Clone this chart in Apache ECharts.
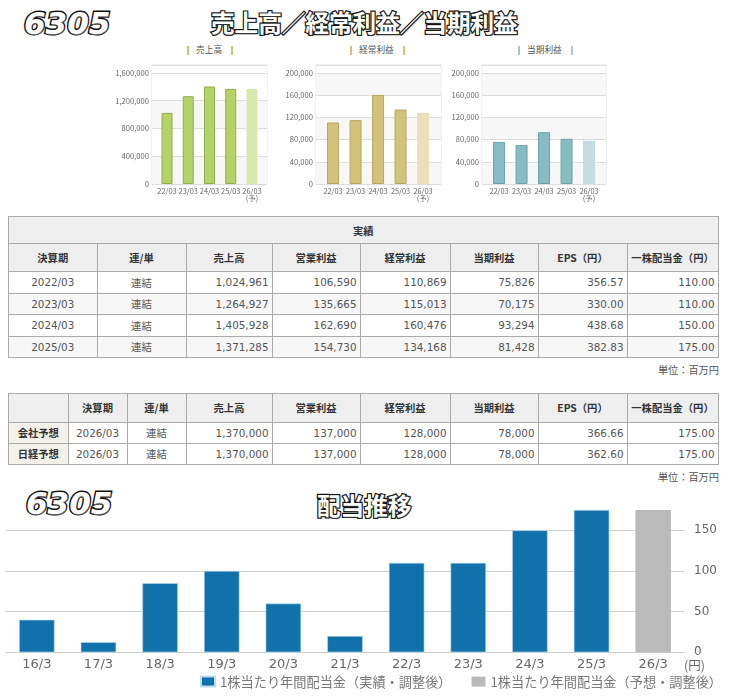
<!DOCTYPE html>
<html>
<head>
<meta charset="utf-8">
<title>6305</title>
<script src="https://cdn.jsdelivr.net/npm/echarts@6/dist/echarts.min.js"></script>
<style>
html,body{margin:0;padding:0;background:#fff;}
body{position:relative;width:730px;height:700px;overflow:hidden;font-family:'DejaVu Sans','Noto Sans CJK JP',sans-serif;}
.abs{position:absolute;}
.code,.head{position:absolute;color:#fff;paint-order:stroke fill;white-space:nowrap;}
.code{font:italic bold 31px 'DejaVu Sans';line-height:32px;-webkit-text-stroke:3px #111;text-shadow:0.5px 0.5px 0 #666;}
.head{font:bold 23.6px 'Noto Sans CJK JP';line-height:28px;-webkit-text-stroke:2.4px #111;text-shadow:1px 1px 0 #333;}
.mini-title{position:absolute;top:43px;font:8.7px 'Noto Sans CJK JP';line-height:14px;color:#555;white-space:nowrap;}
.mini-title i{position:absolute;top:3px;width:2px;height:9px;}
table{position:absolute;left:8px;border-collapse:collapse;table-layout:fixed;font-size:10.4px;color:#555;}
th,td{border:1px solid #aaa;padding:0;box-sizing:border-box;text-align:center;font-weight:normal;}
th{background:#eee;color:#333;font:bold 10.3px 'Noto Sans CJK JP','DejaVu Sans';}
td.n{text-align:right;padding-right:3px;}
tr.even td{background:#f7f7f7;}
td.rowhead{background:#f4f1ea;color:#333;font:bold 10.3px 'Noto Sans CJK JP';}
.unit{position:absolute;right:11px;font:10.2px 'Noto Sans CJK JP';color:#555;}
</style>
</head>
<body>
<div class="code" style="left:24px;top:7px;">6305</div>
<div class="head" style="left:211px;top:8px;">売上高／経常利益／当期利益</div>
<div class="mini-title" style="left:196px;"><i style="left:-9px;background:#b3d267;"></i>売上高<i style="left:35px;background:#b3d267;"></i></div>
<div class="mini-title" style="left:359px;"><i style="left:-9px;background:#d3c27a;"></i>経常利益<i style="left:44px;background:#d3c27a;"></i></div>
<div class="mini-title" style="left:527px;"><i style="left:-9px;background:#a5c9cf;"></i>当期利益<i style="left:44px;background:#a5c9cf;"></i></div>
<div id="miniSales" class="abs"></div>
<div id="miniOrdinary" class="abs"></div>
<div id="miniNet" class="abs"></div>
<table id="resultTable" style="top:216px;"></table>
<div class="unit" style="top:362px;">単位：百万円</div>
<table id="forecastTable" style="top:393px;"></table>
<div class="unit" style="top:469px;">単位：百万円</div>
<div class="code" style="left:26px;top:487px;">6305</div>
<div class="head" style="left:317px;top:491px;">配当推移</div>
<div id="dividendChart" class="abs" style="left:0;top:490px;width:730px;height:210px;"></div>

<script>
// 上段の小さいグラフ
var miniPeriods = ['22/03', '23/03', '24/03', '25/03', '26/03\n(予)'];
var salesValues = [1024961, 1264927, 1405928, 1371285, 1370000];
var ordinaryValues = [110869, 115013, 160476, 134168, 128000];
var netValues = [75826, 70175, 93294, 81428, 78000];

// 実績テーブル
var resultHeaders = ['決算期', '連/単', '売上高', '営業利益', '経常利益', '当期利益', 'EPS（円）', '一株配当金（円）'];
var resultWidths = [88.5, 89, 86, 88, 90, 88, 89, 91];
var resultRows = [
    ['2022/03', '連結', '1,024,961', '106,590', '110,869', '75,826', '356.57', '110.00'],
    ['2023/03', '連結', '1,264,927', '135,665', '115,013', '70,175', '330.00', '110.00'],
    ['2024/03', '連結', '1,405,928', '162,690', '160,476', '93,294', '438.68', '150.00'],
    ['2025/03', '連結', '1,371,285', '154,730', '134,168', '81,428', '382.83', '175.00']
];

// 予想テーブル
var forecastWidths = [59.5, 59, 59, 86, 88, 90, 88, 89, 91];
var forecastRows = [
    ['会社予想', '2026/03', '連結', '1,370,000', '137,000', '128,000', '78,000', '366.66', '175.00'],
    ['日経予想', '2026/03', '連結', '1,370,000', '137,000', '128,000', '78,000', '362.60', '175.00']
];

// 配当推移
var dividendPeriods = ['16/3', '17/3', '18/3', '19/3', '20/3', '21/3', '22/3', '23/3', '24/3', '25/3', '26/3'];
var dividendActual = [40, 12.5, 85, 100, 60, 20, 110, 110, 150, 175, null];
var dividendForecast = [null, null, null, null, null, null, null, null, null, null, 175];

renderTables();
renderMini('miniSales', 152, 267, 156.4, 262.6, 11, salesValues, 1715000, 400000, ['#f7f7f7', '#fff', '#f7f7f7', '#fff', '#fff'], '#b3d267', '#8fb04f', '#d9e8ae');
renderMini('miniOrdinary', 316, 441, 321.8, 434.3, 12, ordinaryValues, 214400, 40000, ['#f7f7f7', '#fff'], '#d3c27a', '#b8a65f', '#e9e0ba');
renderMini('miniNet', 482, 606, 487.8, 600.3, 12, netValues, 214400, 40000, ['#f7f7f7', '#fff'], '#88bcc3', '#6da2aa', '#c4dbe0');
renderDividend();

function colgroup(widths) {
    return '<colgroup>' + widths.map(function (w) { return '<col style="width:' + w + 'px">'; }).join('') + '</colgroup>';
}

function renderTables() {
    var total = resultWidths.reduce(function (a, b) { return a + b; }, 0);
    var html = colgroup(resultWidths);
    html += '<tr style="height:27px"><th colspan="8">実績</th></tr>';
    html += '<tr style="height:28px">' + resultHeaders.map(function (h) { return '<th>' + h + '</th>'; }).join('') + '</tr>';
    resultRows.forEach(function (row, i) {
        html += '<tr style="height:21.5px" class="' + (i % 2 ? 'even' : '') + '">';
        row.forEach(function (v, c) { html += '<td class="' + (c > 1 ? 'n' : '') + '">' + v + '</td>'; });
        html += '</tr>';
    });
    var t1 = document.getElementById('resultTable');
    t1.style.width = total + 'px';
    t1.innerHTML = html;

    html = colgroup(forecastWidths);
    html += '<tr style="height:28.5px"><th></th>' + resultHeaders.map(function (h) { return '<th>' + h + '</th>'; }).join('') + '</tr>';
    forecastRows.forEach(function (row) {
        html += '<tr style="height:21px">';
        row.forEach(function (v, c) {
            html += '<td class="' + (c === 0 ? 'rowhead' : (c > 2 ? 'n' : '')) + '">' + v + '</td>';
        });
        html += '</tr>';
    });
    var t2 = document.getElementById('forecastTable');
    t2.style.width = total + 'px';
    t2.innerHTML = html;
}

/**
 * 小さい棒グラフ。奥のグリッドが枠と目盛線、手前のグリッドが棒
 */
function renderMini(id, boxL, boxR, barL, barR, barW, values, axisMax, step, bands, fill, edge, lightFill) {
    var dom = document.getElementById(id);
    var originX = boxL - 40;
    dom.style.left = originX + 'px';
    dom.style.top = '55px';
    dom.style.width = (boxR - boxL + 55) + 'px';
    dom.style.height = '150px';
    var chart = echarts.init(dom);
    var last = values.length - 1;
    chart.setOption({
        animation: false,
        grid: [
            { left: 40, top: 10, width: boxR - boxL, height: 119, show: true, borderColor: '#e2e2e2', borderWidth: 1, backgroundColor: '#fff' },
            { left: barL - originX, top: 10, width: barR - barL, height: 119 }
        ],
        xAxis: [
            { gridIndex: 0, type: 'category', data: miniPeriods, show: false },
            {
                gridIndex: 1, type: 'category', data: miniPeriods,
                axisLine: { show: false }, axisTick: { show: false },
                axisLabel: { interval: 0, margin: 3, fontSize: 7.4, lineHeight: 7.5, color: '#666', fontFamily: 'Noto Sans CJK JP', hideOverlap: false }
            }
        ],
        yAxis: [
            {
                gridIndex: 0, type: 'value', min: 0, max: axisMax, interval: step,
                axisLine: { show: false }, axisTick: { show: false },
                axisLabel: { showMaxLabel: false, margin: 3, fontSize: 7.6, color: '#666', fontFamily: 'Noto Sans CJK JP' },
                splitLine: { show: true, lineStyle: { color: '#ddd', width: 1 } },
                splitArea: { show: true, areaStyle: { color: bands } }
            },
            { gridIndex: 1, type: 'value', min: 0, max: axisMax, show: false, splitLine: { show: false } }
        ],
        series: [{
            type: 'bar',
            xAxisIndex: 1,
            yAxisIndex: 1,
            barWidth: barW,
            data: values.map(function (v, i) {
                return {
                    value: v,
                    itemStyle: i === last
                        ? { color: lightFill }
                        : { color: fill, borderColor: edge, borderWidth: 1 }
                };
            })
        }]
    });
}

/**
 * 配当推移
 */
function renderDividend() {
    var chart = echarts.init(document.getElementById('dividendChart'));
    var labelName = ['1株当たり年間配当金（実績・調整後）', '1株当たり年間配当金（予想・調整後）'];
    chart.setOption({
        animation: false,
        textStyle: { fontFamily: 'DejaVu Sans' },
        legend: {
            left: 195,
            top: 180,
            icon: 'rect',
            itemWidth: 14,
            itemHeight: 10,
            itemGap: 20,
            textStyle: { color: '#777', fontSize: 13.2, fontFamily: 'Noto Sans CJK JP' },
            data: labelName
        },
        grid: { left: 6, right: 46, top: 20, height: 142.3 },
        xAxis: {
            type: 'category',
            data: dividendPeriods,
            axisLine: { lineStyle: { color: '#ccc' } },
            axisTick: { show: false },
            axisLabel: { interval: 0, margin: 6, fontSize: 13, color: '#666' }
        },
        yAxis: {
            type: 'value',
            position: 'right',
            min: 0,
            max: 175,
            interval: 50,
            name: '(円)',
            nameLocation: 'start',
            nameGap: 7,
            nameTextStyle: { color: '#666', fontSize: 12.5, align: 'left', fontFamily: 'Noto Sans CJK JP' },
            axisLine: { show: false },
            axisTick: { show: false },
            axisLabel: { showMaxLabel: false, margin: 10, fontSize: 12, color: '#666', align: 'left' },
            splitLine: { showMaxLine: false, lineStyle: { color: '#d0d0d0' } }
        },
        series: [
            {
                name: labelName[0], type: 'bar', barWidth: 35.5, barGap: '-100%',
                itemStyle: { color: '#1172ab', borderColor: '#b9dcef', borderWidth: 0.6 },
                data: dividendActual
            },
            {
                name: labelName[1], type: 'bar', barWidth: 35.5,
                itemStyle: { color: '#bababa' },
                data: dividendForecast
            }
        ]
    });
}
</script>
</body>
</html>
